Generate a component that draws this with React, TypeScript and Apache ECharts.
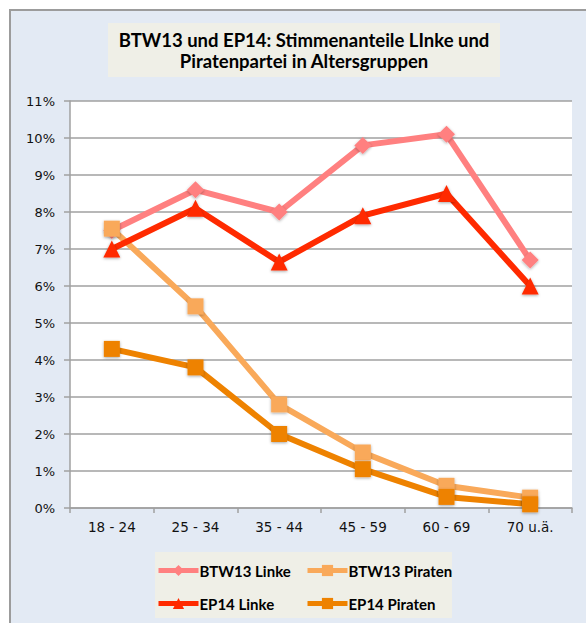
import React, { useEffect, useRef } from "react";
import * as echarts from "echarts";

const categories = ["18 - 24", "25 - 34", "35 - 44", "45 - 59", "60 - 69", "70 u.ä."];
const btw13Linke = [7.5, 8.6, 8.0, 9.8, 10.1, 6.7];
const btw13Piraten = [7.55, 5.45, 2.8, 1.5, 0.6, 0.28];
const ep14Linke = [7.0, 8.1, 6.65, 7.9, 8.5, 6.0];
const ep14Piraten = [4.3, 3.8, 2.0, 1.05, 0.3, 0.1];
const titleLines = ["BTW13 und EP14: Stimmenanteile LInke und", "Piratenpartei in Altersgruppen"];

export default function App() {
  const ref = useRef<HTMLDivElement>(null);
  useEffect(() => {
    if (!ref.current) return;
    const chart = echarts.init(ref.current, null, { renderer: "svg" });
    const shadow = { shadowBlur: 3, shadowColor: "rgba(0,0,0,0.35)", shadowOffsetY: 1 };
    const mk = (name: string, data: number[], color: string, symbol: string, size: number) => ({
      name,
      type: "line",
      data,
      symbol,
      symbolSize: size,
      showSymbol: true,
      lineStyle: { color, width: 6 },
      itemStyle: { color, ...shadow },
      emphasis: { disabled: true },
    });
    const legendText = { fontFamily: "Lato", fontWeight: "bold", fontSize: 15, color: "#000", padding: [0, 0, 0, -4] };
    chart.setOption({
      animation: false,
      backgroundColor: "#ffffff",
      graphic: [
        {
          type: "rect",
          shape: { x: 10, y: 10, width: 620, height: 660 },
          style: { fill: "#E3EAF4", stroke: "#9C9C9C", lineWidth: 2 },
          z: -10,
        },
        {
          type: "rect",
          shape: { x: 108, y: 23, width: 392, height: 54 },
          style: { fill: "#EFEFE7" },
          z: -9,
        },
        {
          type: "rect",
          shape: { x: 155, y: 552, width: 297, height: 66 },
          style: { fill: "#EFEFE7" },
          z: -9,
        },
      ],
      title: {
        text: titleLines.join("\n"),
        left: 304,
        top: 29,
        textAlign: "center",
        padding: 0,
        textStyle: {
          fontFamily: "Lato",
          fontWeight: "bold",
          fontSize: 18.5,
          lineHeight: 21,
          color: "#000",
        },
      },
      legend: [
        {
          orient: "vertical",
          left: 156,
          top: 563,
          itemWidth: 40,
          itemHeight: 14,
          itemGap: 18,
          padding: 0,
          lineStyle: { width: 5 },
          data: ["BTW13 Linke", "EP14 Linke"],
          textStyle: legendText,
        },
        {
          orient: "vertical",
          left: 305,
          top: 563,
          itemWidth: 40,
          itemHeight: 14,
          itemGap: 18,
          padding: 0,
          lineStyle: { width: 5 },
          data: ["BTW13 Piraten", "EP14 Piraten"],
          textStyle: legendText,
        },
      ],
      grid: {
        left: 70,
        right: 14,
        top: 101,
        bottom: 115,
        show: true,
        backgroundColor: "#ffffff",
        borderWidth: 0,
      },
      xAxis: {
        type: "category",
        data: categories,
        boundaryGap: true,
        axisLine: { show: true, lineStyle: { color: "#A0A0A0", width: 1.5 } },
        axisTick: { show: true, length: 5, lineStyle: { color: "#A0A0A0", width: 1.5 } },
        axisLabel: { fontFamily: "DejaVu Sans", fontSize: 13.5, color: "#111", margin: 12 },
      },
      yAxis: {
        type: "value",
        min: 0,
        max: 11,
        interval: 1,
        axisLine: { show: true, lineStyle: { color: "#A0A0A0", width: 1.5 } },
        axisTick: { show: true, length: 6, lineStyle: { color: "#A0A0A0", width: 1.5 } },
        splitLine: { show: true, lineStyle: { color: "#A0A0A0", width: 1.5 } },
        axisLabel: {
          formatter: "{value}%",
          fontFamily: "DejaVu Sans",
          fontSize: 13,
          color: "#111",
          margin: 15,
        },
      },
      series: [
        mk("BTW13 Linke", btw13Linke, "#FF8080", "diamond", 17),
        mk("BTW13 Piraten", btw13Piraten, "#F9A95A", "rect", 16),
        mk("EP14 Linke", ep14Linke, "#FF2A00", "triangle", 17),
        mk("EP14 Piraten", ep14Piraten, "#EE8200", "rect", 16),
      ],
    });
    return () => chart.dispose();
  }, []);
  return (
    <div
      ref={ref}
      style={{ position: "fixed", left: 0, top: 0, width: 586, height: 623 }}
    />
  );
}
